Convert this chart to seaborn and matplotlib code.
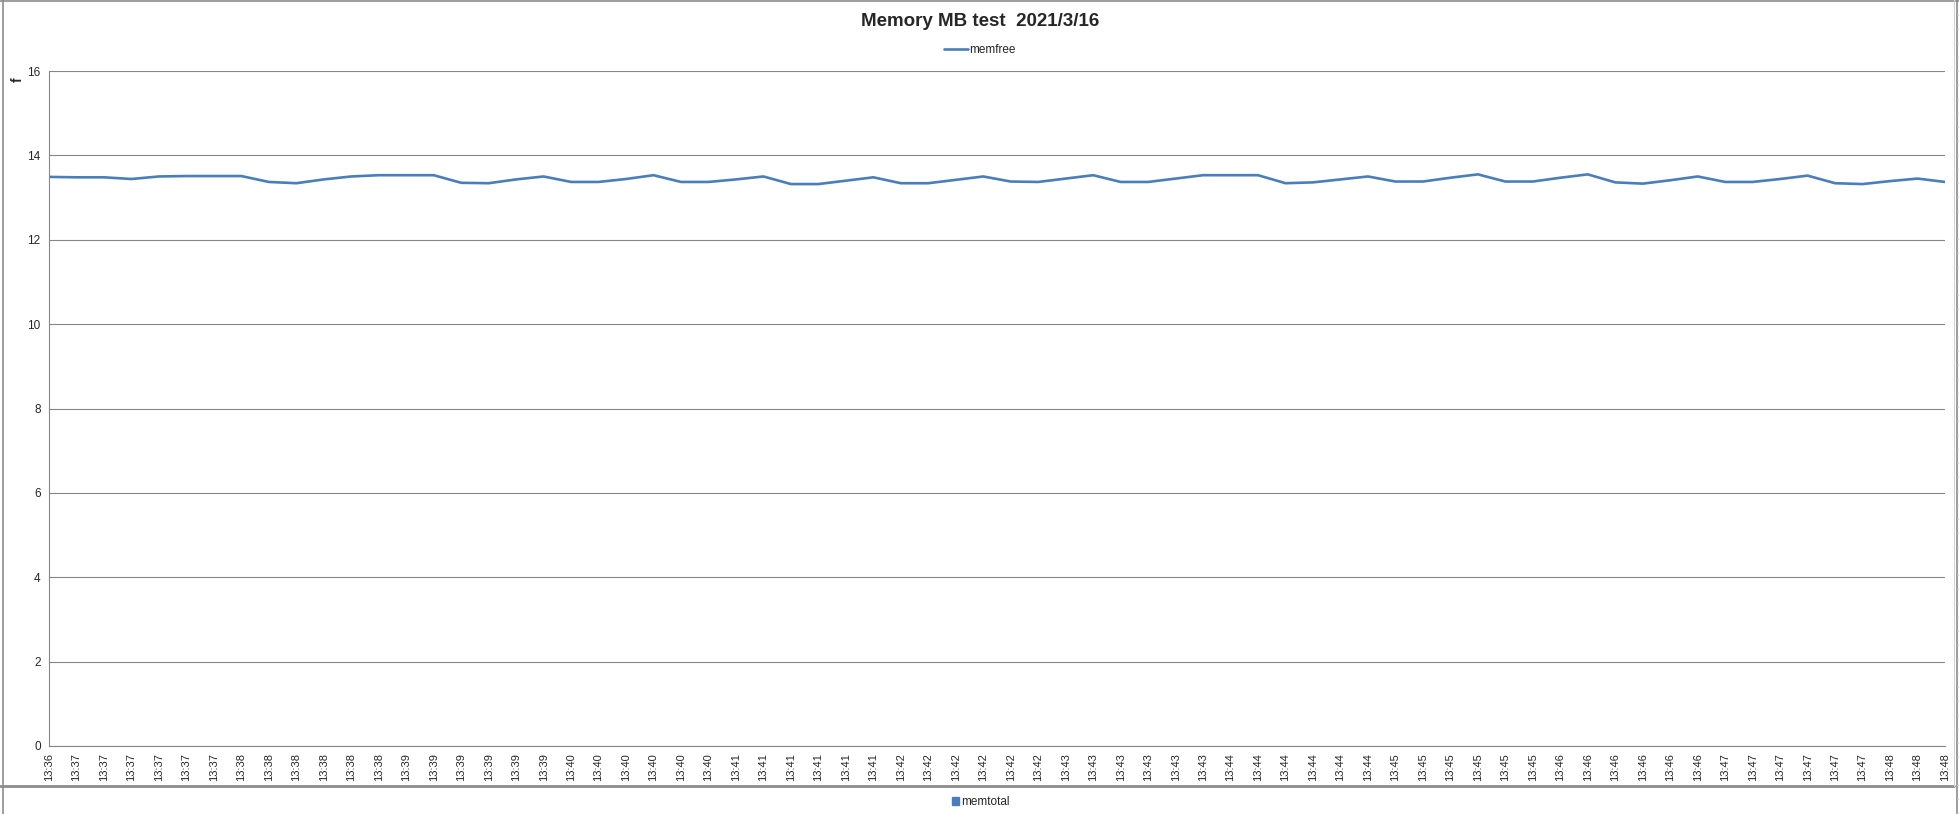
import pandas as pd
import numpy as np
import seaborn as sns
import matplotlib.pyplot as plt
from matplotlib.lines import Line2D
from matplotlib.patches import Patch

# time labels, one sample every 10 s
times = (["13:36"] + ["13:37"] * 6 + ["13:38"] * 6 + ["13:39"] * 6 + ["13:40"] * 6
         + ["13:41"] * 6 + ["13:42"] * 6 + ["13:43"] * 6 + ["13:44"] * 6 + ["13:45"] * 6
         + ["13:46"] * 6 + ["13:47"] * 6 + ["13:48"] * 3)

memfree = [13.49, 13.48, 13.48, 13.44, 13.50, 13.51, 13.51, 13.51, 13.37, 13.34,
           13.43, 13.50, 13.53, 13.53, 13.53, 13.35, 13.34, 13.43, 13.50, 13.37,
           13.37, 13.44, 13.53, 13.37, 13.37, 13.43, 13.50, 13.32, 13.32, 13.40,
           13.48, 13.34, 13.34, 13.42, 13.50, 13.38, 13.37, 13.45, 13.53, 13.37,
           13.37, 13.45, 13.53, 13.53, 13.53, 13.34, 13.36, 13.43, 13.50, 13.38,
           13.38, 13.47, 13.55, 13.38, 13.38, 13.47, 13.55, 13.36, 13.33, 13.41,
           13.50, 13.37, 13.37, 13.44, 13.52, 13.34, 13.32, 13.39, 13.45, 13.37]

yticks = [0, 2, 4, 6, 8, 10, 12, 14, 16]

df = pd.DataFrame({"idx": range(len(memfree)), "time": times, "memfree": memfree})

sns.set_style("white")
plt.rcParams['font.family'] = ['Liberation Sans', 'DejaVu Sans']

W, H = 1959, 814
fig = plt.figure(figsize=(W / 100, H / 100), dpi=100)
ax = fig.add_axes([49 / W, 1 - 746 / H, (1945 - 49) / W, (746 - 71) / H])

grid_c = "#868686"
blue = "#4A7EBB"

sns.lineplot(data=df, x="idx", y="memfree", ax=ax, color=blue, linewidth=1.9,
             label="memfree", legend=False)

ax.set_xlim(0, len(memfree) - 1)
ax.set_ylim(0, 16)
ax.set_yticks(yticks)
ax.set_yticklabels([str(v) for v in yticks], fontsize=8.5)
ax.set_xticks(df["idx"])
ax.set_xticklabels(times, rotation=90, fontsize=8)
ax.tick_params(axis="x", length=0, pad=5)
ax.tick_params(axis="y", length=3, color=grid_c, pad=3)
ax.yaxis.grid(True, color=grid_c, linewidth=0.8)
ax.set_axisbelow(True)
for s in ["top", "right"]:
    ax.spines[s].set_visible(False)
for s in ["left", "bottom"]:
    ax.spines[s].set_color(grid_c)
    ax.spines[s].set_linewidth(0.8)
ax.set_xlabel("")
ax.set_ylabel("")

fig.text(18 / W, 1 - 80 / H, "f", rotation=90, fontsize=10, fontweight="bold",
         ha="center", va="center")
fig.text(980 / W, 1 - 22 / H, "Memory MB test  2021/3/16", fontsize=13.5,
         fontweight="bold", ha="center", va="center")

ax.legend(handles=[Line2D([0], [0], color=blue, lw=1.9)], labels=["memfree"],
          loc="center", bbox_to_anchor=(980 / W, 1 - 50 / H),
          bbox_transform=fig.transFigure, frameon=False, fontsize=8.5,
          handlelength=2.0, handletextpad=0.15)

fig.legend(handles=[Patch(color=blue)], labels=["memtotal"], loc="center",
           bbox_to_anchor=(981 / W, 1 - 802 / H), frameon=False, fontsize=8.5,
           handlelength=0.6, handleheight=0.6, handletextpad=0.2)

# chart frame lines
frame_c = "#8c8c8c"
fig.add_artist(Line2D([0, 1], [1 - 1 / H, 1 - 1 / H], color=frame_c, lw=1.2))
fig.add_artist(Line2D([3 / W, 3 / W], [0, 1], color=frame_c, lw=1.2))
fig.add_artist(Line2D([0, 1954 / W], [1 - 786 / H, 1 - 786 / H], color=frame_c, lw=2))
fig.add_artist(Line2D([1954 / W, 1954 / W], [1 - 786 / H, 1], color="#d4d4d4", lw=0.8))
fig.add_artist(Line2D([1957 / W, 1957 / W], [0, 1], color=frame_c, lw=1.2))
for ty in range(15, H, 14):
    fig.add_artist(Line2D([1957 / W, 1961 / W], [1 - ty / H, 1 - ty / H],
                          color="#c8c8c8", lw=0.8))

plt.savefig("out.png", dpi=100)
